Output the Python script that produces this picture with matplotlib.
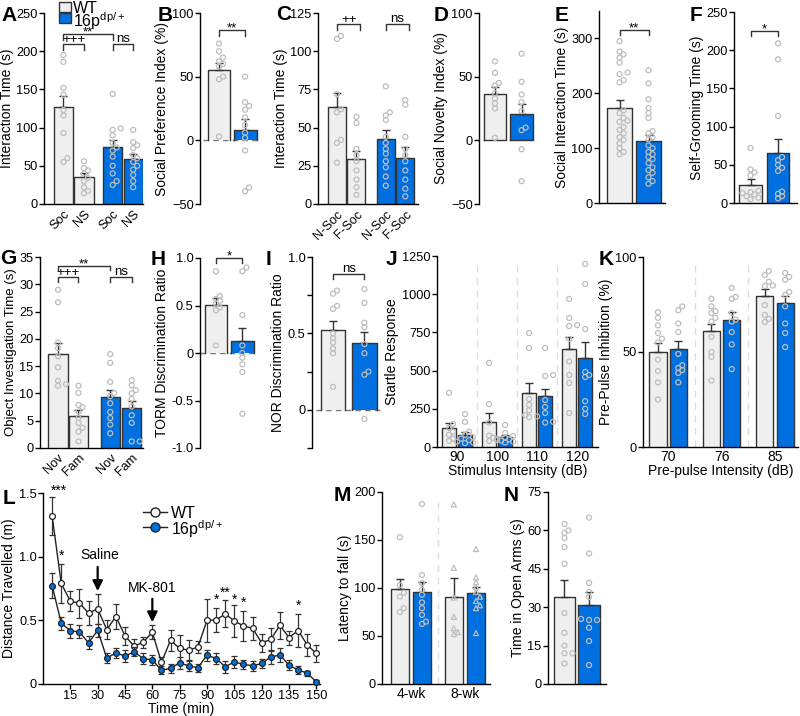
import numpy as np
import matplotlib
matplotlib.use('Agg')
import matplotlib.pyplot as plt
from matplotlib.patches import Rectangle
from matplotlib.lines import Line2D

plt.rcParams['font.family'] = ['Liberation Sans', 'DejaVu Sans']
plt.rcParams['mathtext.fontset'] = 'custom'
plt.rcParams['mathtext.rm'] = 'Liberation Sans'
plt.rcParams['mathtext.it'] = 'Liberation Sans:italic'

W, H = 800, 716
GRAY = '#EFEFEF'
BLUE = '#0070E0'
EDGE = '#333333'
DOT = '#BDBDBD'
TICK_FS = 9.2
LAB_FS = 10

# ---------------- data ----------------
# A: three-chamber sociability
a_pts = [[195, 186, 152, 143, 123, 116, 93, 60, 55],
         [56, 47, 44, 40, 34, 30, 22, 17, 14],
         [144, 99, 97, 90, 80, 74, 70, 62, 50, 40, 30, 25],
         [97, 81, 77, 73, 64, 60, 55, 50, 45, 38, 30, 22]]
a_mean = [127, 35, 74, 59]
a_sem = [14, 5, 10, 7]
a_labels = ['Soc', 'NS', 'Soc', 'NS']

# B: social preference index
b_pts = [[76, 70, 65, 62, 60, 58, 50, 48, 3],
         [50, 30, 27, 24, 18, 12, 6, 2, -8, -37, -40]]
b_mean = [55, 8]
b_sem = [6, 8.5]

# C: social novelty interaction time
c_pts = [[110, 108, 72, 62, 60, 42, 40, 27],
         [57, 53, 36, 32, 28, 22, 16, 11, 6],
         [77, 60, 58, 55, 44, 40, 36, 33, 28, 24, 18, 12],
         [68, 65, 44, 36, 32, 28, 22, 16, 10, 5]]
c_mean = [63.5, 29.4, 42.5, 30]
c_sem = [9, 5, 6, 7]
c_labels = ['N-Soc', 'F-Soc', 'N-Soc', 'F-Soc']

# D: social novelty index
d_pts = [[62, 53, 45, 43, 37, 33, 29, 25, 2],
         [68, 46, 36, 30, 23, 10, 8, -7, -32]]
d_mean = [36.5, 20.5]
d_sem = [5.5, 8]

# E: social interaction time
e_pts = [[295, 276, 271, 265, 256, 238, 235, 224, 220, 169, 164, 155, 150, 148,
          138, 133, 127, 120, 115, 109, 100, 93, 89],
         [242, 218, 189, 173, 164, 155, 131, 127, 120, 116, 105, 100, 93, 89,
          84, 80, 73, 65, 60, 55, 47, 40, 35]]
e_mean = [174, 113]
e_sem = [13, 11]

# F: self-grooming
f_pts = [[72, 44, 40, 36, 16, 14, 13, 11, 9, 7, 5],
         [209, 188, 114, 60, 56, 50, 46, 42, 15, 12, 9, 6]]
f_mean = [24, 66]
f_sem = [7, 18]

# G: object investigation
g_pts = [[29, 26.7, 19.3, 18.3, 16.8, 14.8, 12.3, 11.7, 11.4],
         [11.4, 10.1, 7.9, 7.5, 6.7, 5.5, 4.6, 3.7, 3.0, 1.2],
         [17.2, 15.6, 12.1, 10.1, 9.5, 8.2, 6.6, 5.5, 4.3, 2.7],
         [12.4, 11.5, 10.6, 10, 9, 7.6, 6, 4.6, 1.2, 1.2]]
g_mean = [17.2, 5.9, 9.3, 7.4]
g_sem = [2.0, 1.0, 1.4, 1.2]
g_labels = ['Nov', 'Fam', 'Nov', 'Fam']

# H: TORM discrimination ratio
h_pts = [[0.86, 0.6, 0.57, 0.55, 0.52, 0.48, 0.45, 0.08],
         [0.9, 0.86, 0.4, 0.08, 0.0, -0.05, -0.12, -0.2, -0.64]]
h_mean = [0.51, 0.13]
h_sem = [0.07, 0.13]

# I: NOR discrimination ratio
i_pts = [[0.78, 0.76, 0.68, 0.66, 0.5, 0.47, 0.44, 0.4, 0.37, 0.15],
         [0.79, 0.7, 0.57, 0.54, 0.43, 0.37, 0.25, 0.23, -0.06]]
i_mean = [0.52, 0.44]
i_sem = [0.06, 0.07]

# J: acoustic startle
j_levels = ['90', '100', '110', '120']
j_wt_pts = [[355, 150, 125, 100, 80, 55, 40],
            [550, 280, 160, 75, 60, 45, 40],
            [746, 648, 314, 275, 240, 209, 200, 196],
            [969, 844, 798, 792, 707, 560, 471, 419, 222]]
j_kd_pts = [[215, 165, 100, 80, 65, 55, 45, 35, 30, 25],
            [144, 92, 72, 62, 55, 50, 42, 35, 30],
            [648, 471, 465, 308, 262, 222, 165, 160],
            [1198, 1067, 772, 491, 471, 458, 300, 250, 216]]
j_wt_mean = [124, 164, 353, 641]
j_wt_sem = [33, 58, 66, 79]
j_kd_mean = [79, 65, 334, 582]
j_kd_sem = [19, 12, 46, 105]

# K: pre-pulse inhibition
k_levels = ['70', '76', '85']
k_wt_pts = [[71, 68, 64, 60, 57, 55, 46, 40, 34, 25],
            [78, 74, 71.5, 70.5, 68, 66, 58, 50, 47.4, 35],
            [92.6, 90.5, 87, 85, 84.7, 74.7, 69.5, 67.4, 65.8]]
k_kd_pts = [[74, 72, 65, 60.5, 49, 43, 41.6, 40.5, 39, 34],
            [83.7, 79, 78, 70.5, 67, 66, 60.5, 54, 41],
            [91.6, 89.5, 88, 81.6, 80, 74, 65, 60, 52.6]]
k_wt_mean = [50, 61, 79.5]
k_wt_sem = [5, 4, 3.5]
k_kd_mean = [51.5, 67, 76]
k_kd_sem = [4.5, 4, 3.5]

# L: open field with saline / MK-801
l_time = [5, 10, 15, 20, 25, 30, 35, 40, 45, 50, 55, 60, 65, 70, 75,
          80, 85, 90, 95, 100, 105, 110, 115, 120, 125, 130, 135, 140, 145, 150]
l_wt = [1.32, 0.79, 0.65, 0.635, 0.557, 0.59, 0.427, 0.53, 0.378, 0.297,
        0.328, 0.406, 0.17, 0.344, 0.279, 0.266, 0.29, 0.50, 0.503, 0.55,
        0.495, 0.456, 0.437, 0.323, 0.35, 0.461, 0.365, 0.42, 0.306, 0.24]
l_wt_err = [0.15, 0.15, 0.08, 0.115, 0.093, 0.12, 0.073, 0.10, 0.072, 0.06,
            0.042, 0.054, 0.043, 0.083, 0.104, 0.078, 0.05, 0.17, 0.097, 0.106,
            0.122, 0.117, 0.089, 0.073, 0.09, 0.104, 0.055, 0.13, 0.084, 0.07]
l_kd = [0.773, 0.479, 0.417, 0.409, 0.323, 0.422, 0.203, 0.245, 0.219, 0.253,
        0.2, 0.188, 0.109, 0.122, 0.167, 0.141, 0.128, 0.227, 0.2, 0.135,
        0.174, 0.154, 0.143, 0.161, 0.213, 0.227, 0.148, 0.109, 0.086, 0.016]
l_kd_err = [0.097, 0.051, 0.057, 0.051, 0.052, 0.052, 0.042, 0.041, 0.047, 0.037,
            0.04, 0.039, 0.031, 0.038, 0.047, 0.039, 0.032, 0.043, 0.04, 0.045,
            0.045, 0.034, 0.037, 0.039, 0.053, 0.053, 0.04, 0.031, 0.02, 0.015]

# M: rotarod
m_ages = ['4-wk', '8-wk']
m_wt_pts = [[153, 103, 95, 91, 79, 75],
            [187, 121, 90, 70, 58, 54, 52]]
m_kd_pts = [[187.5, 113.5, 105, 98, 93, 85, 79, 72, 65, 62.5],
            [140.6, 111, 106, 101, 96, 91, 86.5, 82, 79, 53]]
m_wt_mean = [99.3, 91]
m_wt_sem = [10, 19]
m_kd_mean = [96, 94.6]
m_kd_sem = [10, 6.5]

# N: elevated plus maze
n_pts = [[62.5, 60, 59, 57, 53.5, 47, 27.7, 20, 15, 12, 12, 8],
         [65, 51, 39.5, 36, 34, 25.4, 25, 25, 22, 16.8, 7.4]]
n_mean = [34, 31]
n_sem = [6.6, 5]

# ---------------- helpers ----------------
fig = plt.figure(figsize=(8, 7.16), dpi=100)


def px_axes(l, t, r, b):
    ax = fig.add_axes([l / W, 1 - b / H, (r - l) / W, (b - t) / H])
    ax.spines['top'].set_visible(False)
    ax.spines['right'].set_visible(False)
    ax.spines['left'].set_linewidth(1)
    ax.spines['bottom'].set_linewidth(1)
    ax.tick_params(direction='out', length=3.5, width=1, labelsize=TICK_FS, pad=1)
    ax.patch.set_alpha(0)
    return ax


def swarm(ax, xc, vals, d=4.4, step=4.0):
    trans = ax.transData
    inv = trans.inverted()
    x0 = trans.transform((xc, 0))[0]
    placed = []
    xs = [0.0] * len(vals)
    for i in sorted(range(len(vals)), key=lambda k: vals[k]):
        yp = trans.transform((xc, vals[i]))[1]
        for k in range(30):
            off = ((k + 1) // 2) * step * (1 if k % 2 else -1)
            xp = x0 + off
            if all((xp - a) ** 2 + (yp - b) ** 2 >= d * d for a, b in placed):
                break
        placed.append((xp, yp))
        xs[i] = inv.transform((xp, yp))[0]
    return xs


def bar(ax, x, h, sem, w, color, pts, marker='o', bottom=False, cap=3.2):
    ax.bar(x, h, w, color=color, lw=0, zorder=1)
    if bottom:
        ax.plot([x - w / 2, x - w / 2, x + w / 2, x + w / 2, x - w / 2],
                [0, h, h, 0, 0], color=EDGE, lw=1, zorder=2)
    else:
        ax.plot([x - w / 2, x - w / 2, x + w / 2, x + w / 2],
                [0, h, h, 0], color=EDGE, lw=1, zorder=2)
    ax.errorbar([x], [h], yerr=[[0], [sem]], fmt='none', ecolor=EDGE,
                elinewidth=1, capsize=cap, capthick=1, zorder=2)
    xs = swarm(ax, x, pts)
    ax.scatter(xs, pts, s=13, marker=marker, facecolors='none', edgecolors=DOT,
               linewidths=0.9, zorder=3, clip_on=False)


def bracket(ax, x1, x2, y, y0, text, fs=9.5):
    ax.plot([x1, x1, x2, x2], [y0, y, y, y0], color=EDGE, lw=1, clip_on=False)
    # asterisks sit high in the em box, so drop their baseline a little
    off = -1.0 if text.startswith('*') else (0.6 if text.startswith('+') else 1.5)
    ax.annotate(text, xy=((x1 + x2) / 2, y), xytext=(0, off), textcoords='offset points',
                ha='center', va='baseline', fontsize=fs)


def letter(x, y, s):
    fig.text(x / W, 1 - y / H, s, fontsize=15, fontweight='bold', ha='left', va='top')


def zero_dash(ax, x1, x2):
    ax.plot([x1, x2], [0, 0], color='#777777', lw=1, ls=(0, (4, 3)), zorder=0)


# ---------------- A ----------------
ax = px_axes(44, 13, 143, 204)
ax.set_xlim(-0.95, 3.88)
ax.set_ylim(0, 250)
ax.set_yticks([0, 50, 100, 150, 200, 250])
pos = [0, 1, 2.4, 3.4]
for p, m, s, pts, c in zip(pos, a_mean, a_sem, a_pts, [GRAY, GRAY, BLUE, BLUE]):
    bar(ax, p, m, s, 0.93, c, pts)
ax.set_xticks(pos)
ax.set_xticklabels(a_labels, rotation=45, ha='right', rotation_mode='anchor')
ax.tick_params(axis='x', length=0, pad=3)
ax.set_ylabel('Interaction Time (s)', fontsize=LAB_FS, labelpad=2)
bracket(ax, 0, 2.4, 222, 215, '**')
bracket(ax, 0, 1, 209.5, 201, '+++')
bracket(ax, 2.4, 3.4, 209.5, 201, 'ns')
letter(1, 6, 'A')

# ---------------- B ----------------
ax = px_axes(200, 13, 262, 204)
ax.set_xlim(-0.73, 1.65)
ax.set_ylim(-50, 100)
ax.set_yticks([-50, 0, 50, 100])
ax.spines['bottom'].set_visible(False)
ax.set_xticks([])
zero_dash(ax, -0.63, 1.65)
for p, m, s, pts, c in zip([0, 1], b_mean, b_sem, b_pts, [GRAY, BLUE]):
    bar(ax, p, m, s, 0.88, c, pts)
ax.set_ylabel('Social Preference Index (%)', fontsize=LAB_FS, labelpad=2)
bracket(ax, 0, 1, 87, 82, '**')
letter(158, 6, 'B')

# ---------------- C ----------------
ax = px_axes(318, 13, 418, 204)
ax.set_xlim(-0.97, 4.15)
ax.set_ylim(0, 125)
ax.set_yticks([0, 25, 50, 75, 100, 125])
pos = [0, 1, 2.5, 3.5]
for p, m, s, pts, c in zip(pos, c_mean, c_sem, c_pts, [GRAY, GRAY, BLUE, BLUE]):
    bar(ax, p, m, s, 0.92, c, pts)
ax.set_xticks(pos)
ax.set_xticklabels(c_labels, rotation=45, ha='right', rotation_mode='anchor')
ax.tick_params(axis='x', length=0, pad=3)
ax.set_ylabel('Interaction Time (s)', fontsize=LAB_FS, labelpad=2)
bracket(ax, 0, 1.2, 117.8, 114, '++')
bracket(ax, 2.5, 3.7, 117.8, 114, 'ns')
letter(276, 5, 'C')

# ---------------- D ----------------
ax = px_axes(479, 13, 537, 204)
ax.set_xlim(-0.6, 1.58)
ax.set_ylim(-50, 100)
ax.set_yticks([-50, 0, 50, 100])
ax.spines['bottom'].set_visible(False)
ax.set_xticks([])
for p, m, s, pts, c in zip([0, 1], d_mean, d_sem, d_pts, [GRAY, BLUE]):
    bar(ax, p, m, s, 0.85, c, pts, bottom=True)
ax.set_ylabel('Social Novelty Index (%)', fontsize=LAB_FS, labelpad=2)
letter(434, 6, 'D')

# ---------------- E ----------------
ax = px_axes(599, 11, 665, 203)
ax.set_xlim(-0.71, 1.57)
ax.set_ylim(0, 350)
ax.set_yticks([0, 100, 200, 300])
ax.set_xticks([])
for p, m, s, pts, c in zip([0, 1], e_mean, e_sem, e_pts, [GRAY, BLUE]):
    bar(ax, p, m, s, 0.86, c, pts)
ax.set_ylabel('Social Interaction Time (s)', fontsize=LAB_FS, labelpad=2)
bracket(ax, 0, 1, 316, 307, '**')
letter(555, 6, 'E')

# ---------------- F ----------------
ax = px_axes(734, 12, 797, 203)
ax.set_xlim(-0.6, 1.69)
ax.set_ylim(0, 250)
ax.set_yticks([0, 50, 100, 150, 200, 250])
ax.set_xticks([])
for p, m, s, pts, c in zip([0, 1], f_mean, f_sem, f_pts, [GRAY, BLUE]):
    bar(ax, p, m, s, 0.82, c, pts)
ax.set_ylabel('Self-Grooming Time (s)', fontsize=LAB_FS, labelpad=2)
bracket(ax, 0, 1, 225, 218.6, '*')
letter(690, 6, 'F')

# ---------------- G ----------------
ax = px_axes(40, 257, 143, 448)
ax.set_xlim(-0.88, 4.15)
ax.set_ylim(0, 35)
ax.set_yticks([0, 5, 10, 15, 20, 25, 30, 35])
pos = [0, 1, 2.55, 3.6]
for p, m, s, pts, c in zip(pos, g_mean, g_sem, g_pts, [GRAY, GRAY, BLUE, BLUE]):
    bar(ax, p, m, s, 0.93, c, pts)
ax.set_xticks(pos)
ax.set_xticklabels(g_labels, rotation=45, ha='right', rotation_mode='anchor')
ax.tick_params(axis='x', length=0, pad=3)
ax.set_ylabel('Object Investigation Time (s)', fontsize=9.5, labelpad=2)
bracket(ax, 0, 2.55, 33.4, 32.6, '**')
bracket(ax, 0, 1, 31.4, 30.5, '+++')
bracket(ax, 2.55, 3.6, 31.4, 30.5, 'ns')
letter(0, 249, 'G')

# ---------------- H ----------------
ax = px_axes(200, 258, 262, 448)
ax.set_xlim(-0.6, 1.74)
ax.set_ylim(-1, 1)
ax.set_yticks([-1, -0.5, 0, 0.5, 1])
ax.set_yticklabels(['-1.0', '-0.5', '0', '0.5', '1.0'])
ax.spines['bottom'].set_visible(False)
ax.set_xticks([])
zero_dash(ax, -0.6, 1.6)
for p, m, s, pts, c in zip([0, 1], h_mean, h_sem, h_pts, [GRAY, BLUE]):
    bar(ax, p, m, s, 0.85, c, pts)
ax.set_ylabel('TORM Discrimination Ratio', fontsize=LAB_FS, labelpad=2)
bracket(ax, 0, 1, 1.0, 0.947, '*')
letter(151, 250, 'H')

# ---------------- I ----------------
ax = px_axes(312, 257, 382, 448)
ax.set_xlim(-0.67, 1.56)
ax.set_ylim(-0.25, 1.0)
ax.set_yticks([-0.25, 0, 0.25, 0.5, 0.75, 1.0])
ax.set_yticklabels(['', '0', '', '0.5', '', '1.0'])
ax.spines['bottom'].set_visible(False)
ax.set_xticks([])
zero_dash(ax, -0.55, 1.5)
for p, m, s, pts, c in zip([0, 1], i_mean, i_sem, i_pts, [GRAY, BLUE]):
    bar(ax, p, m, s, 0.78, c, pts)
ax.set_ylabel('NOR Discrimination Ratio', fontsize=LAB_FS, labelpad=2)
bracket(ax, 0, 1, 0.888, 0.855, 'ns')
letter(266, 250, 'I')

# ---------------- J ----------------
ax = px_axes(437, 256, 598, 447)
ax.set_xlim(-0.5, 3.52)
ax.set_ylim(0, 1250)
ax.set_yticks([0, 250, 500, 750, 1000, 1250])
for xv in [0.5, 1.5, 2.5]:
    ax.plot([xv, xv], [0, 1200], color='#DDDDDD', lw=1, ls=(0, (5, 4)), zorder=0)
for g in range(4):
    bar(ax, g - 0.2, j_wt_mean[g], j_wt_sem[g], 0.36, GRAY, j_wt_pts[g], cap=2.8)
    bar(ax, g + 0.2, j_kd_mean[g], j_kd_sem[g], 0.36, BLUE, j_kd_pts[g], cap=2.8)
ax.set_xticks(range(4))
ax.set_xticklabels(j_levels, fontsize=10)
ax.tick_params(axis='x', length=0, pad=2)
ax.set_xlabel('Stimulus Intensity (dB)', fontsize=LAB_FS, labelpad=0)
ax.set_ylabel('Startle Response', fontsize=LAB_FS, labelpad=2)
letter(386, 250, 'J')

# ---------------- K ----------------
ax = px_axes(643, 257, 798, 447)
ax.set_xlim(-0.47, 2.43)
ax.set_ylim(0, 100)
ax.set_yticks([0, 50, 100])
for xv in [0.5, 1.5]:
    ax.plot([xv, xv], [0, 97], color='#DDDDDD', lw=1, ls=(0, (5, 4)), zorder=0)
for g in range(3):
    bar(ax, g - 0.19, k_wt_mean[g], k_wt_sem[g], 0.32, GRAY, k_wt_pts[g], cap=3)
    bar(ax, g + 0.19, k_kd_mean[g], k_kd_sem[g], 0.32, BLUE, k_kd_pts[g], cap=3)
ax.set_xticks(range(3))
ax.set_xticklabels(k_levels, fontsize=10)
ax.tick_params(axis='x', length=0, pad=2)
ax.set_xlabel('Pre-pulse Intensity (dB)', fontsize=LAB_FS, labelpad=0)
ax.set_ylabel('Pre-Pulse Inhibition (%)', fontsize=LAB_FS, labelpad=2)
letter(599, 250, 'K')

# ---------------- L ----------------
ax = px_axes(43, 493, 320, 684)
ax.set_xlim(0, 152)
ax.set_ylim(0, 1.5)
ax.set_yticks([0, 0.5, 1.0, 1.5])
ax.set_yticklabels(['0', '0.5', '1.0', '1.5'])
ax.set_xticks([15, 30, 45, 60, 75, 90, 105, 120, 135, 150])
ax.errorbar(l_time, l_wt, yerr=l_wt_err, color='#222222', lw=1, marker='o', ms=4.2,
            mfc='white', mec='#222222', mew=0.9, ecolor='#333333', elinewidth=0.9,
            capsize=2.0, capthick=0.9, zorder=3, clip_on=False)
ax.errorbar(l_time, l_kd, yerr=l_kd_err, color='#222222', lw=1, marker='o', ms=4.2,
            mfc=BLUE, mec='#222222', mew=0.9, ecolor='#333333', elinewidth=0.9,
            capsize=2.0, capthick=0.9, zorder=4, clip_on=False)
for t, y, s in [(5, 1.46, '***'), (10, 0.95, '*'), (95, 0.61, '*'), (100, 0.66, '**'),
                (105, 0.61, '*'), (110, 0.58, '*'), (140, 0.56, '*')]:
    ax.text(t + (3.5 if s == '***' else 0), y, s, ha='center', va='bottom', fontsize=10)
arr = dict(arrowstyle='-|>,head_width=0.3,head_length=0.6', color='black', lw=1.6,
           shrinkA=1, shrinkB=0)
ax.annotate('', xy=(30, 0.73), xytext=(30, 0.93), arrowprops=arr)
ax.text(31, 0.96, 'Saline', ha='center', va='bottom', fontsize=10)
ax.annotate('', xy=(60, 0.485), xytext=(60, 0.68), arrowprops=arr)
ax.text(60, 0.70, 'MK-801', ha='center', va='bottom', fontsize=10)
ax.set_xlabel('Time (min)', fontsize=LAB_FS, labelpad=0)
ax.set_ylabel('Distance Travelled (m)', fontsize=LAB_FS, labelpad=2)
# legend rows drawn by hand so the spacing follows the reference
for yrow, fc, lab in [(512, 'white', 'WT'), (527, BLUE, r'16p$^{\mathrm{dp/+}}$')]:
    fy = 1 - yrow / H
    fig.add_artist(Line2D([143 / W, 167 / W], [fy, fy], color='#222222', lw=1,
                          transform=fig.transFigure))
    fig.add_artist(Line2D([155 / W], [fy], marker='o', ms=6.5, mfc=fc, mec='#222222',
                          mew=1, transform=fig.transFigure))
    fig.text(171 / W, fy, lab, fontsize=11.5, ha='left', va='center_baseline')
letter(3, 489, 'L')

# ---------------- M ----------------
ax = px_axes(382, 492, 490, 684)
ax.set_xlim(-0.54, 1.46)
ax.set_ylim(0, 200)
ax.set_yticks([0, 50, 100, 150, 200])
ax.plot([0.5, 0.5], [0, 195], color='#DDDDDD', lw=1, ls=(0, (5, 4)), zorder=0)
for g, mk in zip(range(2), ['o', '^']):
    bar(ax, g - 0.21, m_wt_mean[g], m_wt_sem[g], 0.34, GRAY, m_wt_pts[g], marker=mk)
    bar(ax, g + 0.2, m_kd_mean[g], m_kd_sem[g], 0.34, BLUE, m_kd_pts[g], marker=mk)
ax.set_xticks(range(2))
ax.set_xticklabels(m_ages, fontsize=10)
ax.tick_params(axis='x', length=0, pad=2)
ax.set_ylabel('Latency to fall (s)', fontsize=LAB_FS, labelpad=2)
letter(334, 486, 'M')

# ---------------- N ----------------
ax = px_axes(548, 492, 606, 684)
ax.set_xlim(-0.67, 1.69)
ax.set_ylim(0, 75)
ax.set_yticks([0, 15, 30, 45, 60, 75])
ax.set_xticks([])
for p, m, s, pts, c in zip([0, 1], n_mean, n_sem, n_pts, [GRAY, BLUE]):
    bar(ax, p, m, s, 0.86, c, pts)
ax.set_ylabel('Time in Open Arms (s)', fontsize=LAB_FS, labelpad=2)
letter(504, 486, 'N')

# ---------------- top legend (drawn in pixel positions) ----------------
for (top, c, lab) in [(2, GRAY, 'WT'), (13.5, BLUE, r'16p$^{\mathrm{dp/+}}$')]:
    fig.add_artist(Rectangle((59 / W, 1 - (top + 9.5) / H), 12 / W, 9.5 / H,
                             transform=fig.transFigure, facecolor=c, edgecolor=EDGE, lw=1))
    fig.text(73 / W, 1 - (top + 5) / H, lab, fontsize=11.5, ha='left', va='center_baseline')

fig.savefig('out.png', dpi=100)
